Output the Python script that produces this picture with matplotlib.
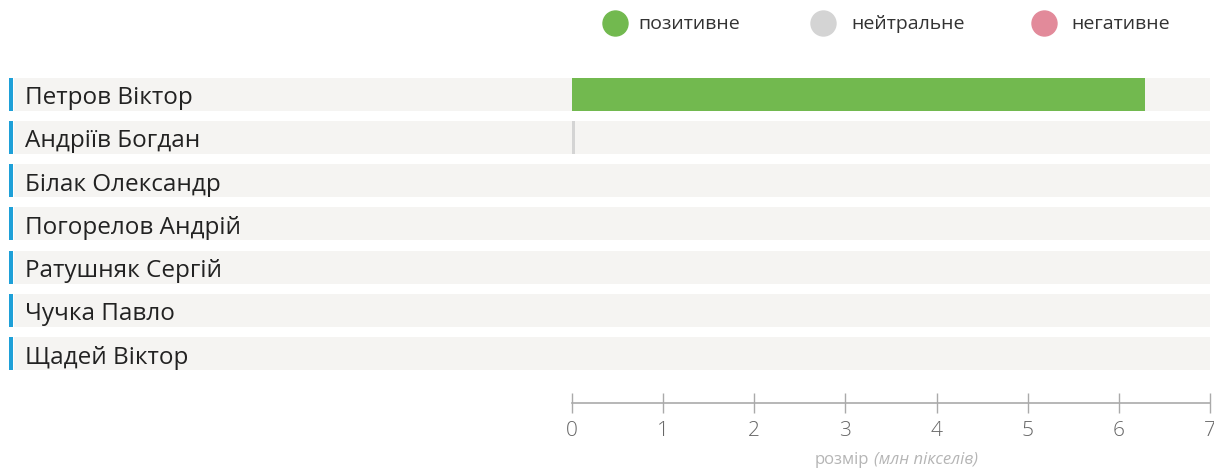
import matplotlib.pyplot as plt
from matplotlib.lines import Line2D

plt.rcParams['font.family'] = ['Open Sans', 'DejaVu Sans']

names = ['Петров Віктор', 'Андріїв Богдан', 'Білак Олександр', 'Погорелов Андрій',
         'Ратушняк Сергій', 'Чучка Павло', 'Щадей Віктор']
positive = [6.29, 0, 0, 0, 0, 0, 0]
neutral = [0, 0.03, 0, 0, 0, 0, 0]
negative = [0, 0, 0, 0, 0, 0, 0]
legend_labels = ['позитивне', 'нейтральне', 'негативне']
colors = ['#72b94f', '#d4d4d4', '#e28a9a']

W, H = 1214, 468
fig = plt.figure(figsize=(W / 100, H / 100), dpi=100)

bottom = 1 - 375.5 / H
height = (375.5 - 72.4) / H
n = len(names)
ypos = list(range(n))

# background rows + labels
ax_bg = fig.add_axes([9 / W, bottom, (1210 - 9) / W, height])
ax_bg.set_xlim(0, 1)
ax_bg.set_ylim(n - 0.5, -0.5)
ax_bg.barh(ypos, [1 - 5 / 1201] * n, left=5 / 1201, height=0.76, color='#f5f4f2')
ax_bg.barh(ypos, [4 / 1201] * n, left=0, height=0.76, color='#1ea0d8')
for i, name in enumerate(names):
    ax_bg.text(16 / 1201, i + 0.09, name, va='center', ha='left', fontsize=17.5, color='#222222')
ax_bg.axis('off')

# data axes
ax = fig.add_axes([572 / W, bottom, (1210 - 572) / W, height])
ax.patch.set_alpha(0)
ax.set_xlim(0, 7)
ax.set_ylim(n - 0.5, -0.5)
left = [0] * n
for vals, c in zip([positive, neutral, negative], colors):
    ax.barh(ypos, vals, left=left, height=0.76, color=c)
    left = [a + b for a, b in zip(left, vals)]

for s in ['top', 'right', 'left']:
    ax.spines[s].set_visible(False)
ax.spines['bottom'].set_position(('outward', 20))
ax.spines['bottom'].set_color('#aaaaaa')
ax.spines['bottom'].set_linewidth(1.2)
ax.set_yticks([])
ax.set_xticks(range(8))
ax.tick_params(axis='x', direction='inout', length=14, width=1, color='#aaaaaa',
               labelsize=15, labelcolor='#666666', pad=6)
for t in ax.get_xticklabels():
    t.set_fontweight('light')

fig.text(869 / W, 1 - 460 / H, 'розмір', ha='right', va='center', fontsize=12, color='#b5b5b5')
fig.text(874 / W, 1 - 460 / H, '(млн пікселів)', ha='left', va='center', fontsize=12,
         color='#b5b5b5', style='italic')

# legend
for x_c, x_t, lab, c in zip([615, 823, 1044], [638, 851, 1071], legend_labels, colors):
    fig.add_artist(Line2D([x_c / W], [1 - 23 / H], marker='o', markersize=18, color=c,
                          linestyle='none', transform=fig.transFigure))
    fig.text(x_t / W, 1 - 24 / H, lab, ha='left', va='center', fontsize=14, color='#333333')

fig.savefig('out.png', dpi=100)
